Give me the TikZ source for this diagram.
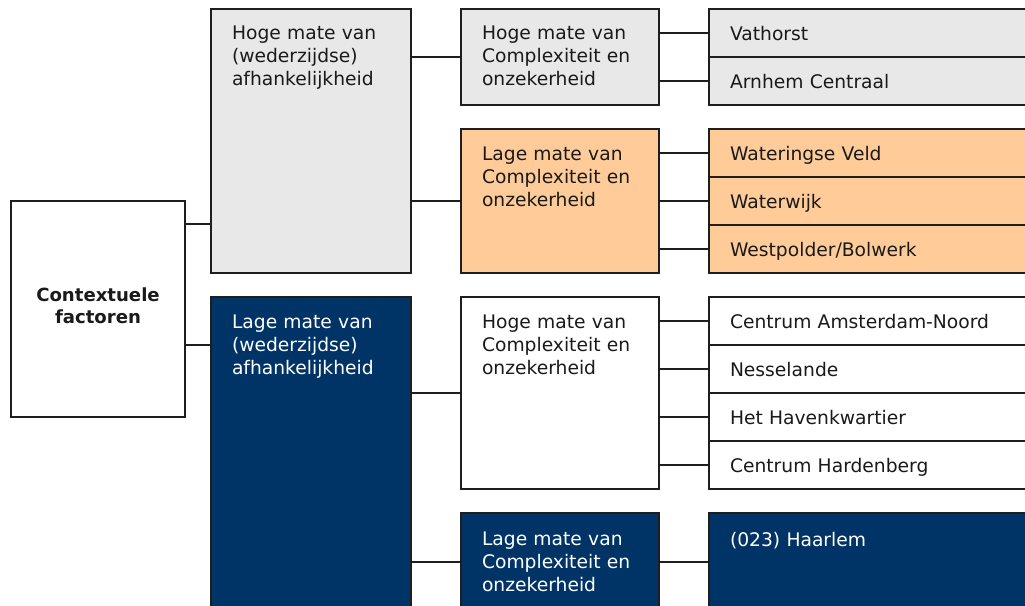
\documentclass[tikz,border=0pt]{standalone}
\usepackage{fontspec}
\setmainfont{DejaVu Sans}
\definecolor{greyfill}{HTML}{E8E8E8}
\definecolor{peach}{HTML}{FFCC99}
\definecolor{navy}{HTML}{003366}
\definecolor{edge}{HTML}{1E1E1E}
\definecolor{ink}{HTML}{1A1A1A}
\newcommand\diagfont{\fontsize{18.7}{23}\selectfont}
\newcommand\diagbold{\fontsize{18.1}{22}\selectfont\bfseries}
\begin{document}
\begin{tikzpicture}[x=1pt,y=-1pt,
  every node/.style={inner sep=0pt, outer sep=0pt},
  panel/.style={draw=edge, line width=1.5pt, anchor=north west},
  wire/.style={draw=edge, line width=1.5pt},
  boxtext/.style={anchor=base west, text width=180pt, align=left, font=\diagfont, text=ink},
  rowcell/.style={panel, minimum height=48pt, inner xsep=21pt, inner ysep=0pt,
    text width=300pt, align=left, text height=14pt, text depth=0pt,
    font=\diagfont, text=ink}]
\useasboundingbox (0,0) rectangle (1025,605);
\clip (0,0) rectangle (1025,605);

% root
\node[panel, fill=white, minimum width=174pt, minimum height=216pt] (ctx) at (11,201) {};
\node[anchor=base, text width=170pt, align=center, font=\diagbold, text=ink]
  (ctxtext) at ([yshift=-100pt]ctx.north) {Contextuele\\factoren};

% dependency level
\node[panel, fill=greyfill, minimum width=200pt, minimum height=264pt] (hiDep) at (211,9) {};
\node[boxtext] (hiDeptext) at ([xshift=21pt,yshift=-30pt]hiDep.north west)
  {Hoge mate van\\(wederzijdse)\\afhankelijkheid};
\node[panel, fill=navy, minimum width=200pt, minimum height=330pt] (loDep) at (211,297) {};
\node[boxtext, text=white] (loDeptext) at ([xshift=21pt,yshift=-31pt]loDep.north west)
  {Lage mate van\\(wederzijdse)\\afhankelijkheid};

% complexity level
\node[panel, fill=greyfill, minimum width=198pt, minimum height=96pt] (hh) at (461,9) {};
\node[boxtext] (hhtext) at ([xshift=21pt,yshift=-30pt]hh.north west)
  {Hoge mate van\\Complexiteit en\\onzekerheid};
\node[panel, fill=peach, minimum width=198pt, minimum height=144pt] (hl) at (461,129) {};
\node[boxtext] (hltext) at ([xshift=21pt,yshift=-31pt]hl.north west)
  {Lage mate van\\Complexiteit en\\onzekerheid};
\node[panel, fill=white, minimum width=198pt, minimum height=192pt] (lh) at (461,297) {};
\node[boxtext] (lhtext) at ([xshift=21pt,yshift=-31pt]lh.north west)
  {Hoge mate van\\Complexiteit en\\onzekerheid};
\node[panel, fill=navy, minimum width=198pt, minimum height=98pt] (ll) at (461,513) {};
\node[boxtext, text=white] (lltext) at ([xshift=21pt,yshift=-32pt]ll.north west)
  {Lage mate van\\Complexiteit en\\onzekerheid};

% cases
\node[rowcell, fill=greyfill] (r1) at (709,9) {Vathorst};
\node[rowcell, fill=greyfill] (r2) at (709,57) {Arnhem Centraal};
\node[rowcell, fill=peach] (r3) at (709,129) {Wateringse Veld};
\node[rowcell, fill=peach] (r4) at (709,177) {Waterwijk};
\node[rowcell, fill=peach] (r5) at (709,225) {Westpolder/Bolwerk};
\node[rowcell, fill=white] (r6) at (709,297) {Centrum Amsterdam-Noord};
\node[rowcell, fill=white] (r7) at (709,345) {Nesselande};
\node[rowcell, fill=white] (r8) at (709,393) {Het Havenkwartier};
\node[rowcell, fill=white] (r9) at (709,441) {Centrum Hardenberg};
\node[rowcell, fill=navy, minimum height=98pt] (r10) at (709,513) {};
\node[boxtext, text=white] (r10text) at ([xshift=21pt,yshift=-33pt]r10.north west) {(023) Haarlem};

% connectors
\coordinate (ctxA) at ([yshift=-23pt]ctx.north east);
\coordinate (ctxB) at ([yshift=-144pt]ctx.north east);
\draw[wire] (ctxA) -- (ctxA -| hiDep.west);
\draw[wire] (ctxB) -- (ctxB -| loDep.west);
\draw[wire] (hiDep.east |- hh.west) -- (hh.west);
\draw[wire] (hiDep.east |- hl.west) -- (hl.west);
\draw[wire] (loDep.east |- lh.west) -- (lh.west);
\draw[wire] (loDep.east |- ll.west) -- (ll.west);
\foreach \src/\dst in {hh/r1, hh/r2, hl/r3, hl/r4, hl/r5, lh/r6, lh/r7, lh/r8, lh/r9, ll/r10}
  \draw[wire] (\src.east |- \dst.west) -- (\dst.west);
\end{tikzpicture}
\end{document}
